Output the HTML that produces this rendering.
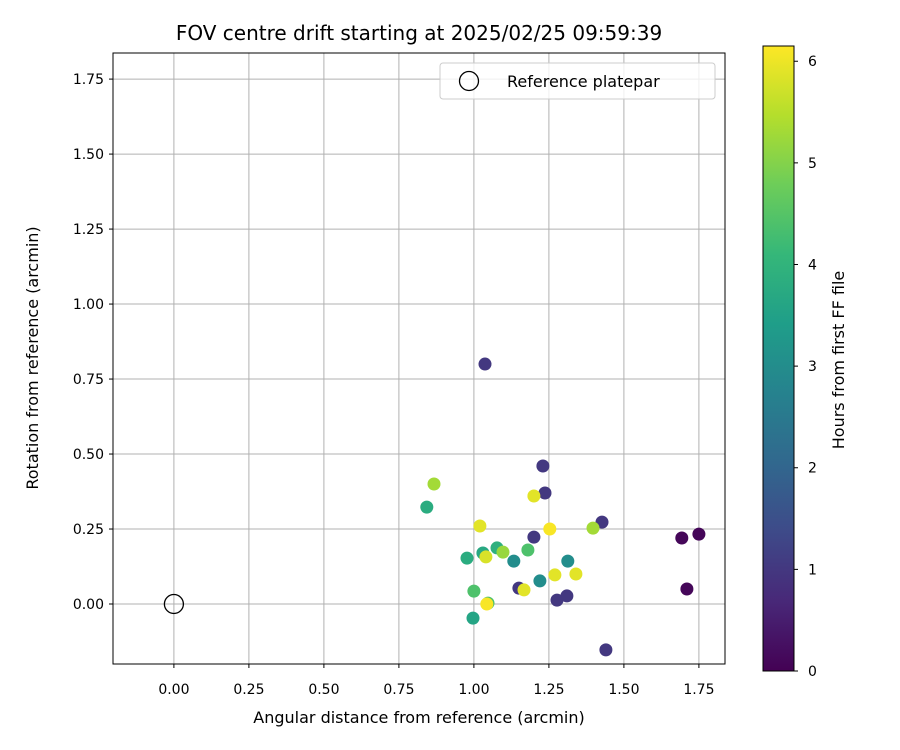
<!DOCTYPE html>
<html><head><meta charset="utf-8"><style>body{margin:0;background:#fff}svg{display:block;font-family:"DejaVu Sans","Liberation Sans",sans-serif}</style></head>
<body>
<svg id="c" width="900" height="750" xmlns="http://www.w3.org/2000/svg"></svg>
<script>
const xs=[1.037,1.23,1.237,1.20,0.867,0.843,1.02,1.253,1.427,1.397,1.693,1.75,1.71,1.2,0.977,1.03,1.077,1.097,1.04,1.18,1.133,1.313,1.27,1.34,1.22,1.15,1.167,1.0,1.047,1.043,1.277,1.31,0.997,1.44];
const ys=[0.80,0.46,0.37,0.36,0.40,0.323,0.26,0.25,0.273,0.253,0.22,0.233,0.05,0.223,0.153,0.17,0.187,0.173,0.157,0.18,0.143,0.143,0.097,0.10,0.077,0.053,0.047,0.043,0.003,0.0,0.013,0.027,-0.047,-0.153];
const hours=[1.0,1.0,1.0,5.9,5.3,3.8,5.9,6.1,1.0,5.3,0.1,0.1,0.1,1.0,3.8,3.7,3.9,5.2,5.8,4.4,3.0,3.0,5.9,5.9,3.0,1.0,5.9,4.4,4.4,6.1,1.0,1.0,3.6,1.0];
const xTicks=[0,0.25,0.5,0.75,1.0,1.25,1.5,1.75];
const yTicks=[0,0.25,0.5,0.75,1.0,1.25,1.5,1.75];
const cTicks=[0,1,2,3,4,5,6];
const L=113,R=725,T=53,B=664,xmin=-0.203,xmax=1.837,ymin=-0.2,ymax=1.837,cmax=6.15;
const X=v=>L+(v-xmin)/(xmax-xmin)*(R-L), Y=v=>B-(v-ymin)/(ymax-ymin)*(B-T);
const CT=46,CB=671,CY=v=>CB-v/cmax*(CB-CT);
const vir=[[68,1,84],[72,40,120],[62,74,137],[49,104,142],[38,130,142],[31,158,137],[53,183,121],[109,205,89],[180,222,44],[253,231,37]];
function col(h){let t=Math.max(0,Math.min(1,h/cmax))*9,i=Math.min(8,Math.floor(t)),f=t-i,a=vir[i],b=vir[i+1];return `rgb(${a.map((v,k)=>Math.round(v+(b[k]-v)*f)).join(',')})`;}
const s=document.getElementById('c'),NS='http://www.w3.org/2000/svg';
function el(tag,at,name,txt){const e=document.createElementNS(NS,tag);for(const k in at)e.setAttribute(k,at[k]);


if(txt!=null)e.textContent=txt;s.appendChild(e);return e;}
xTicks.forEach(v=>{el('line',{x1:X(v),x2:X(v),y1:T,y2:B,stroke:'#b0b0b0','stroke-width':1},'x-gridline');
el('line',{x1:X(v),x2:X(v),y1:B,y2:B+4,stroke:'#000'},'x-tick');
el('text',{x:X(v),y:B+30,'text-anchor':'middle','font-size':'14'},'x-tick-label',v.toFixed(2));});
yTicks.forEach(v=>{el('line',{x1:L,x2:R,y1:Y(v),y2:Y(v),stroke:'#b0b0b0','stroke-width':1},'y-gridline');
el('line',{x1:L-4,x2:L,y1:Y(v),y2:Y(v),stroke:'#000'},'y-tick');
el('text',{x:L-9,y:Y(v)+5,'text-anchor':'end','font-size':'14'},'y-tick-label',v.toFixed(2));});
xs.forEach((v,i)=>el('circle',{cx:X(v),cy:Y(ys[i]),r:6.5,fill:col(hours[i])},'data-point'));
el('circle',{cx:X(0),cy:Y(0),r:9.5,fill:'none',stroke:'#000','stroke-width':1.3},'reference-platepar-marker');
el('rect',{x:L,y:T,width:R-L,height:B-T,fill:'none',stroke:'#000','stroke-width':1},'plot-frame');
el('text',{x:419,y:40,'text-anchor':'middle','font-size':'20'},'chart-title','FOV centre drift starting at 2025/02/25 09:59:39');
el('text',{x:419,y:723,'text-anchor':'middle','font-size':'16'},'x-axis-title','Angular distance from reference (arcmin)');
el('text',{x:38,y:358,'text-anchor':'middle','font-size':'16',transform:'rotate(-90 38 358)'},'y-axis-title','Rotation from reference (arcmin)');
el('rect',{x:440,y:63,width:275,height:36,rx:3,fill:'#fff','fill-opacity':0.8,stroke:'#ccc'},'legend-box');
el('circle',{cx:469,cy:81,r:9.5,fill:'none',stroke:'#000','stroke-width':1.3},'legend-marker');
el('text',{x:507,y:87,'font-size':'16'},'legend-label','Reference platepar');
const g=el('defs',{},'defs');g.innerHTML='<linearGradient id="vg" x1="0" y1="1" x2="0" y2="0">'+vir.map((c,i)=>`<stop offset="${i/9}" stop-color="rgb(${c})"/>`).join('')+'</linearGradient>';
el('rect',{x:763,y:CT,width:31,height:CB-CT,fill:'url(#vg)',stroke:'#000','stroke-width':1},'colorbar');
cTicks.forEach(v=>{el('line',{x1:794,x2:798,y1:CY(v),y2:CY(v),stroke:'#000'},'colorbar-tick');
el('text',{x:808,y:CY(v)+5,'font-size':'14'},'colorbar-tick-label',String(v));});
el('text',{x:844,y:360,'text-anchor':'middle','font-size':'16',transform:'rotate(-90 844 360)'},'colorbar-title','Hours from first FF file');
</script>
</body></html>
